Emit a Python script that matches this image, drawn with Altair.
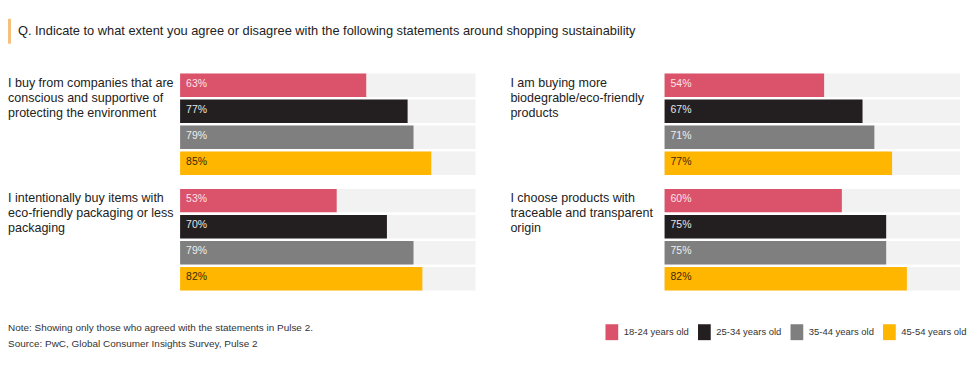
import altair as alt
import pandas as pd

FONT = "Liberation Sans"

TITLE = "Q. Indicate to what extent you agree or disagree with the following statements around shopping sustainability"
STATEMENTS = [
    "I buy from companies that are\nconscious and supportive of\nprotecting the environment",
    "I am buying more\nbiodegrable/eco-friendly\nproducts",
    "I intentionally buy items with\neco-friendly packaging or less\npackaging",
    "I choose products with\ntraceable and transparent\norigin",
]
AGES = ["18-24 years old", "25-34 years old", "35-44 years old", "45-54 years old"]
V_ENV = [63, 77, 79, 85]
V_BIO = [54, 67, 71, 77]
V_PACK = [53, 70, 79, 82]
V_TRACE = [60, 75, 75, 82]
NOTES = [
    "Note: Showing only those who agreed with the statements in Pulse 2.",
    "Source: PwC, Global Consumer Insights Survey, Pulse 2",
]

BAR_COLORS = ["#db536a", "#231f20", "#7f7f7f", "#ffb600"]
LABEL_COLORS = ["#fbe2e7", "#e6e6e6", "#eeeeee", "#3a2a00"]
TRACK_COLOR = "#f2f2f2"

values = [V_ENV, V_BIO, V_PACK, V_TRACE]
rows = []
for sid, vals in enumerate(values):
    for age, v, tc in zip(AGES, vals, LABEL_COLORS):
        rows.append({"sid": sid, "age": age, "value": v, "pct": f"{v}%", "tcolor": tc,
                     "lo": 0, "hi": 100})
df = pd.DataFrame(rows)
stmt_df = pd.DataFrame({"sid": list(range(4)), "text": STATEMENTS})
hdr_df = pd.DataFrame({"title": [TITLE]})
note_df = pd.DataFrame({"i": [0, 1], "note": NOTES})

BAR_W = 297
BAR_H = 102
xs = alt.Scale(domain=[0, 100], nice=False, zero=True)
ys = alt.Scale(domain=AGES, paddingInner=0.1, paddingOuter=0)


def bars_panel(sid):
    base = alt.Chart(df).transform_filter(alt.datum.sid == sid)
    y = alt.Y("age:N", sort=AGES, axis=None, scale=ys)
    track = base.mark_bar(color=TRACK_COLOR).encode(
        x=alt.X("lo:Q", scale=xs, axis=None), x2="hi:Q", y=y)
    bars = base.mark_bar().encode(
        x=alt.X("value:Q", scale=xs, axis=None), y=y,
        color=alt.Color("age:N", scale=alt.Scale(domain=AGES, range=BAR_COLORS),
                        legend=alt.Legend(title=None)))
    pct = base.mark_text(align="left", baseline="middle", dx=6, dy=-1.5,
                         fontSize=10.5, font=FONT).encode(
        x=alt.X("lo:Q", scale=xs, axis=None), y=y, text="pct:N",
        color=alt.Color("tcolor:N", scale=None))
    return alt.layer(track, bars, pct).properties(width=BAR_W, height=BAR_H)


def label_panel(sid, left, width):
    return alt.Chart(stmt_df).transform_filter(alt.datum.sid == sid).mark_text(
        align="left", baseline="top", lineBreak="\n", fontSize=12.6, lineHeight=15,
        font=FONT, color="#222222").encode(
        x=alt.value(left), y=alt.value(3.5), text="text:N"
    ).properties(width=width, height=BAR_H)


header = alt.layer(
    alt.Chart(hdr_df).mark_rule(color="#f5c07e", strokeWidth=3).encode(
        x=alt.value(1.5), y=alt.value(10), y2=alt.value(35)),
    alt.Chart(hdr_df).mark_text(align="left", baseline="middle", fontSize=12.9,
                                font=FONT, color="#222222").encode(
        x=alt.value(10), y=alt.value(22), text="title:N"),
).properties(width=957, height=51)

footer = alt.Chart(note_df).mark_text(align="left", baseline="middle", fontSize=10,
                                      font=FONT, color="#333333").encode(
    x=alt.value(0),
    y=alt.Y("i:Q", scale=alt.Scale(domain=[0, 1], range=[23.5, 39.5]), axis=None),
    text="note:N").properties(width=500, height=45)


def row(a, b):
    return alt.hconcat(label_panel(a, 0, 173), bars_panel(a),
                       label_panel(b, 35, 190), bars_panel(b), spacing=0)


chart = alt.vconcat(header, row(0, 1), row(2, 3), footer, spacing=14).properties(
    padding=0
).configure_view(stroke=None).configure_legend(
    orient="none", legendX=599, legendY=317, direction="horizontal",
    symbolType="M-0.8,-1H0.8V1H-0.8Z", symbolSize=256, symbolStrokeWidth=0,
    symbolOpacity=1, labelFont=FONT, labelFontSize=9.5, labelColor="#333333",
    labelOffset=4, columnPadding=7
)

chart.save("out.html", embed_options={"renderer": "svg", "actions": False})
